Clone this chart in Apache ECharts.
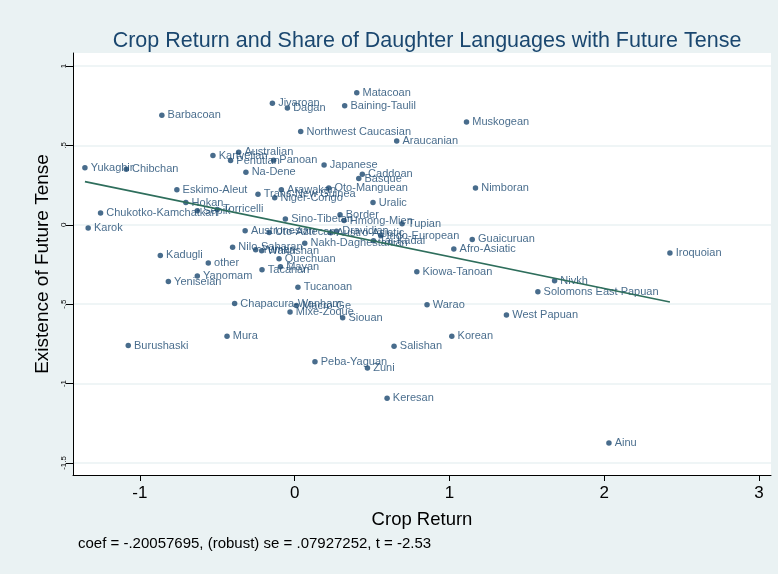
<!DOCTYPE html>
<html><head><meta charset="utf-8">
<script src="https://cdn.jsdelivr.net/npm/echarts@6/dist/echarts.min.js"></script>
<style>html,body{margin:0;padding:0;background:#EAF2F3;} #c{width:778px;height:574px;}</style>
</head><body><div id="c"></div>
<script>
const families = ['Barbacoan','Jivaroan','Dagan','Northwest Caucasian','Matacoan','Baining-Taulil','Muskogean','Araucanian',
 'Yukaghir','Chibchan','Kartvelian','Australian','Penutian','Panoan','Na-Dene','Japanese','Caddoan','Basque',
 'Eskimo-Aleut','Hokan','Trans-New Guinea','Arawakan','Niger-Congo','Oto-Manguean','Nimboran','Uralic',
 'Chukotko-Kamchatkan','Sepik','Torricelli','Karok','Sino-Tibetan','Border','Hmong-Mien','Tupian',
 'Austronesian','Uto-Aztecan','Austro-Asiatic','Dravidian','Indo-European','Tai-Kadai','Nakh-Daghestanian',
 'Guaicuruan','Afro-Asiatic','Iroquoian','Nilo-Saharan','Yuman','Wakashan','Quechuan','Mayan','Tacanan',
 'Kadugli','other','Yanomam','Yeniseian','Kiowa-Tanoan','Nivkh','Solomons East Papuan','Tucanoan',
 'Chapacura-Wanham','Macro-Ge','Mixe-Zoque','Siouan','Warao','West Papuan','Mura','Korean','Burushaski',
 'Salishan','Peba-Yaguan','Zuni','Keresan','Ainu'];
const cropReturn = [-0.858,-0.144,-0.047,0.039,0.401,0.323,1.110,0.659,
 -1.355,-1.088,-0.528,-0.362,-0.414,-0.136,-0.315,0.190,0.437,0.414,
 -0.761,-0.703,-0.237,-0.086,-0.129,0.220,1.168,0.506,
 -1.254,-0.629,-0.500,-1.334,-0.060,0.293,0.319,0.694,
 -0.320,-0.165,0.233,0.270,0.556,0.509,0.065,
 1.147,1.028,2.424,-0.401,-0.252,-0.213,-0.101,-0.092,-0.211,
 -0.868,-0.558,-0.629,-0.816,0.789,1.679,1.571,0.021,
 -0.388,0.011,-0.030,0.310,0.855,1.368,-0.437,1.015,-1.075,
 0.642,0.131,0.470,0.597,2.030];
const futureTense = [0.690,0.765,0.736,0.587,0.832,0.750,0.648,0.528,
 0.360,0.350,0.436,0.457,0.405,0.407,0.331,0.377,0.319,0.291,
 0.220,0.140,0.193,0.220,0.170,0.231,0.231,0.140,
 0.074,0.088,0.097,-0.021,0.037,0.063,0.027,0.006,
 -0.038,-0.048,-0.050,-0.040,-0.069,-0.100,-0.117,
 -0.092,-0.153,-0.178,-0.142,-0.157,-0.164,-0.214,-0.264,-0.283,
 -0.193,-0.241,-0.323,-0.358,-0.296,-0.352,-0.421,-0.394,
 -0.496,-0.509,-0.550,-0.585,-0.503,-0.568,-0.702,-0.702,-0.761,
 -0.765,-0.862,-0.902,-1.092,-1.375];
const fitX = [-1.355, 2.424];
const fitY = [0.272, -0.486];
const xTicks = [-1, 0, 1, 2, 3];
const xTickLabels = ['-1', '0', '1', '2', '3'];
const yTicks = [1, 0.5, 0, -0.5, -1, -1.5];
const yTickLabels = ['1', '.5', '0', '-.5', '-1', '-1.5'];
const chartTitle = 'Crop Return and Share of Daughter Languages with Future Tense';
const xTitle = 'Crop Return';
const yTitle = 'Existence of Future Tense';
const noteText = 'coef = -.20057695, (robust) se = .07927252, t = -2.53';

const FONT = '"Liberation Sans", Arial, Helvetica, sans-serif';
const chart = echarts.init(document.getElementById('c'), null, {renderer: 'canvas'});
chart.setOption({
  backgroundColor: '#EAF2F3',
  animation: false,
  textStyle: {fontFamily: FONT},
  title: {
    text: chartTitle, left: 422, top: 25, textAlign: 'center',
    textStyle: {fontSize: 21.5, fontWeight: 'normal', color: '#1a476f', fontFamily: FONT}
  },
  grid: {left: 73, right: 7, top: 53, bottom: 99, show: true, backgroundColor: '#ffffff', borderWidth: 0},
  xAxis: {
    type: 'value', min: -1.432, max: 3.077,
    axisLine: {show: true, onZero: false, lineStyle: {color: '#000', width: 1}},
    axisTick: {show: true, customValues: xTicks, length: 6, lineStyle: {color: '#000'}},
    axisLabel: {customValues: xTicks, fontSize: 17, color: '#000', margin: 10, fontFamily: FONT,
      formatter: v => xTickLabels[xTicks.indexOf(v)]},
    splitLine: {show: false},
    name: xTitle, nameLocation: 'middle', nameGap: 35,
    nameTextStyle: {fontSize: 18.5, color: '#000', fontFamily: FONT}
  },
  yAxis: {
    type: 'value', min: -1.576, max: 1.082,
    axisLine: {show: true, onZero: false, lineStyle: {color: '#000', width: 1}},
    axisTick: {show: true, customValues: yTicks, length: 7, lineStyle: {color: '#000'}},
    axisLabel: {customValues: yTicks, fontSize: 8, color: '#000', rotate: 90, margin: 5, fontFamily: FONT,
      formatter: v => yTickLabels[yTicks.indexOf(v)]},
    splitLine: {show: true, lineStyle: {color: '#EAF2F3', width: 1.5}},
    name: yTitle, nameLocation: 'middle', nameGap: 21,
    nameTextStyle: {fontSize: 19, color: '#000', fontFamily: FONT}
  },
  series: [
    {
      type: 'scatter', symbolSize: 5.5,
      itemStyle: {color: '#1a476f'},
      data: families.map((f, i) => [cropReturn[i], futureTense[i], f]),
      label: {show: true, position: 'right', distance: 3, fontSize: 11, color: '#1a476f', fontFamily: FONT,
        formatter: p => p.data[2]},
      z: 3
    },
    {
      type: 'line', showSymbol: false, symbol: 'none',
      data: fitX.map((x, i) => [x, fitY[i]]),
      lineStyle: {color: '#2e6e5c', width: 1.6},
      z: 4
    }
  ],
  graphic: [{
    type: 'text', left: 78, top: 536,
    style: {text: noteText, fontSize: 15, fill: '#000', fontFamily: FONT}
  }]
});
</script></body></html>
